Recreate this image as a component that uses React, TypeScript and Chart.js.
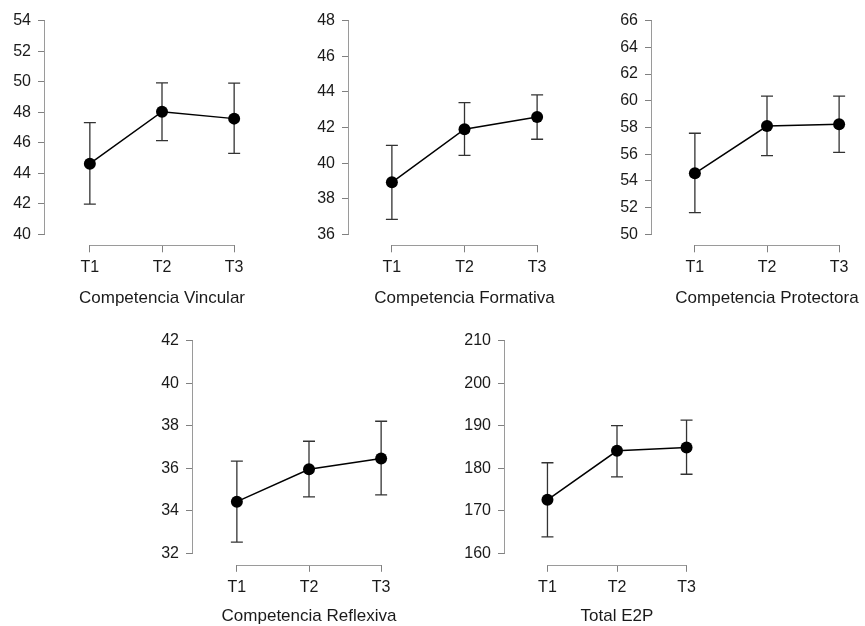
import React, { useEffect, useRef } from "react";
import { Chart, registerables } from "chart.js";

Chart.register(...registerables);

// ---------- data ----------
const timeLabels = ["T1", "T2", "T3"];

const vincularMean = [44.63, 48.03, 47.58];
const vincularLow = [41.98, 46.14, 45.3];
const vincularHigh = [47.32, 49.92, 49.9];
const vincularTicks = [40, 42, 44, 46, 48, 50, 52, 54];

const formativaMean = [38.92, 41.9, 42.59];
const formativaLow = [36.84, 40.43, 41.34];
const formativaHigh = [41.0, 43.39, 43.83];
const formativaTicks = [36, 38, 40, 42, 44, 46, 48];

const protectoraMean = [54.57, 58.11, 58.24];
const protectoraLow = [51.62, 55.9, 56.13];
const protectoraHigh = [57.57, 60.35, 60.35];
const protectoraTicks = [50, 52, 54, 56, 58, 60, 62, 64, 66];

const reflexivaMean = [34.43, 35.95, 36.46];
const reflexivaLow = [32.53, 34.66, 34.75];
const reflexivaHigh = [36.34, 37.27, 38.21];
const reflexivaTicks = [32, 34, 36, 38, 40, 42];

const totalMean = [172.6, 184.1, 184.9];
const totalLow = [163.9, 178.0, 178.6];
const totalHigh = [181.3, 190.0, 191.3];
const totalTicks = [160, 170, 180, 190, 200, 210];

// ---------- layout (pixel geometry of each panel) ----------
type Layout = {
  axisX: number;
  topTickY: number;
  bottomTickY: number;
  axisY: number;
  t1X: number;
  t3X: number;
  titleY: number;
};

type Panel = {
  title: string;
  mean: number[];
  low: number[];
  high: number[];
  ticks: number[];
  layout: Layout;
};

const panels: Panel[] = [
  {
    title: "Competencia Vincular",
    mean: vincularMean,
    low: vincularLow,
    high: vincularHigh,
    ticks: vincularTicks,
    layout: { axisX: 45, topTickY: 19, bottomTickY: 234, axisY: 245, t1X: 91, t3X: 239, titleY: 298.5 },
  },
  {
    title: "Competencia Formativa",
    mean: formativaMean,
    low: formativaLow,
    high: formativaHigh,
    ticks: formativaTicks,
    layout: { axisX: 349, topTickY: 19, bottomTickY: 234, axisY: 245, t1X: 393, t3X: 542, titleY: 298.5 },
  },
  {
    title: "Competencia Protectora",
    mean: protectoraMean,
    low: protectoraLow,
    high: protectoraHigh,
    ticks: protectoraTicks,
    layout: { axisX: 652, topTickY: 19, bottomTickY: 234, axisY: 245, t1X: 696, t3X: 844, titleY: 298.5 },
  },
  {
    title: "Competencia Reflexiva",
    mean: reflexivaMean,
    low: reflexivaLow,
    high: reflexivaHigh,
    ticks: reflexivaTicks,
    layout: { axisX: 193, topTickY: 339, bottomTickY: 553.5, axisY: 565, t1X: 238, t3X: 386, titleY: 617 },
  },
  {
    title: "Total E2P",
    mean: totalMean,
    low: totalLow,
    high: totalHigh,
    ticks: totalTicks,
    layout: { axisX: 505, topTickY: 339, bottomTickY: 553.5, axisY: 565, t1X: 548.5, t3X: 691, titleY: 617 },
  },
];

const FONT = "'Liberation Sans', Arial, Helvetica, sans-serif";
const TEXT = "#1a1a1a";
const AXIS = "#9a9a9a";
const TICK = "#808080";
const ERR = "#333333";
const Y_W = 45;
const PAD_T = 15;
const TITLE_SIZE = 17;
const TITLE_LH = 1.2;

function geometry(p: Panel) {
  const L = p.layout;
  const minT = p.ticks[0];
  const maxT = p.ticks[p.ticks.length - 1];
  const ppu = (L.bottomTickY - L.topTickY) / (maxT - minT);
  const yMax = maxT;
  const yMin = minT - (L.axisY - L.bottomTickY) / ppu;
  const s = (L.t3X - L.t1X) / 2;
  const t2X = L.t1X + s;
  const half = t2X - L.axisX;
  const xMin = 2 - half / s;
  const xMax = 2 + half / s;
  const left = L.axisX - Y_W;
  const top = L.topTickY - PAD_T;
  const width = Math.round(t2X + half - left);
  const xH = L.titleY + (TITLE_SIZE * TITLE_LH) / 2 - L.axisY;
  const height = Math.round(L.axisY + xH - top);
  return { yMin, yMax, xMin, xMax, left, top, width, height, xH };
}

const errorBarsPlugin = {
  id: "errorBarsAndAxes",
  beforeDatasetsDraw(chart: any) {
    const p: Panel = chart.options.plugins.errorBarsAndAxes.panel;
    const { ctx, chartArea, scales } = chart;
    const xs = scales.x;
    const ys = scales.y;
    ctx.save();
    // axis lines (R style, spanning first to last tick)
    ctx.strokeStyle = AXIS;
    ctx.lineWidth = 1;
    ctx.beginPath();
    const ax = Math.round(chartArea.left) - 0.5;
    ctx.moveTo(ax, ys.getPixelForValue(p.ticks[p.ticks.length - 1]));
    ctx.lineTo(ax, ys.getPixelForValue(p.ticks[0]));
    const ay = Math.round(chartArea.bottom) + 0.5;
    ctx.moveTo(xs.getPixelForValue(1), ay);
    ctx.lineTo(xs.getPixelForValue(timeLabels.length), ay);
    ctx.stroke();
    // error bars
    ctx.strokeStyle = ERR;
    ctx.lineWidth = 1.3;
    const cap = 6;
    ctx.beginPath();
    p.mean.forEach((_, i) => {
      const x = xs.getPixelForValue(i + 1);
      const yl = ys.getPixelForValue(p.low[i]);
      const yh = ys.getPixelForValue(p.high[i]);
      ctx.moveTo(x, yh);
      ctx.lineTo(x, yl);
      ctx.moveTo(x - cap, yh);
      ctx.lineTo(x + cap, yh);
      ctx.moveTo(x - cap, yl);
      ctx.lineTo(x + cap, yl);
    });
    ctx.stroke();
    ctx.restore();
  },
};

function PanelChart({ panel }: { panel: Panel }) {
  const ref = useRef<HTMLCanvasElement | null>(null);
  const g = geometry(panel);
  useEffect(() => {
    if (!ref.current) return;
    const chart = new Chart(ref.current, {
      type: "line",
      data: {
        datasets: [
          {
            data: panel.mean.map((v, i) => ({ x: i + 1, y: v })),
            borderColor: "#000",
            borderWidth: 1.5,
            backgroundColor: "#000",
            pointRadius: 6,
            pointBackgroundColor: "#000",
            pointBorderColor: "#000",
            pointBorderWidth: 0,
            tension: 0,
            clip: false as any,
          },
        ],
      },
      plugins: [errorBarsPlugin],
      options: {
        responsive: false,
        animation: false,
        devicePixelRatio: 1,
        layout: { padding: { top: PAD_T, left: 0, right: 0, bottom: 0 } },
        plugins: {
          legend: { display: false },
          tooltip: { enabled: false },
          errorBarsAndAxes: { panel },
        } as any,
        scales: {
          x: {
            type: "linear",
            min: g.xMin,
            max: g.xMax,
            afterBuildTicks: (s: any) => {
              s.ticks = timeLabels.map((_, i) => ({ value: i + 1 }));
            },
            afterFit: (s: any) => {
              s.height = g.xH;
            },
            border: { display: false },
            grid: {
              display: true,
              drawOnChartArea: false,
              drawTicks: true,
              tickLength: 7,
              tickColor: TICK,
              lineWidth: 1,
            },
            ticks: {
              autoSkip: false,
              maxRotation: 0,
              padding: 6,
              color: TEXT,
              font: { family: FONT, size: 16 },
              callback: (v: any) => timeLabels[Math.round(Number(v)) - 1] ?? "",
            },
            title: {
              display: true,
              text: panel.title,
              color: TEXT,
              font: { family: FONT, size: TITLE_SIZE, lineHeight: TITLE_LH },
              padding: 0,
            },
          },
          y: {
            type: "linear",
            min: g.yMin,
            max: g.yMax,
            afterBuildTicks: (s: any) => {
              s.ticks = panel.ticks.map((v) => ({ value: v }));
            },
            afterFit: (s: any) => {
              s.width = Y_W;
            },
            border: { display: false },
            grid: {
              display: true,
              drawOnChartArea: false,
              drawTicks: true,
              tickLength: 7,
              tickColor: TICK,
              lineWidth: 1,
            },
            ticks: {
              autoSkip: false,
              padding: 7,
              color: TEXT,
              font: { family: FONT, size: 16 },
              callback: (v: any) => String(v),
            },
          },
        },
      } as any,
    });
    return () => chart.destroy();
  }, [panel]);
  return (
    <canvas
      ref={ref}
      width={g.width}
      height={g.height}
      style={{ position: "absolute", left: g.left, top: g.top, width: g.width, height: g.height }}
    />
  );
}

export default function App() {
  return (
    <div
      style={{
        position: "absolute",
        left: 0,
        top: 0,
        width: 865,
        height: 626,
        overflow: "hidden",
        background: "#fff",
      }}
    >
      {panels.map((p) => (
        <PanelChart key={p.title} panel={p} />
      ))}
    </div>
  );
}
